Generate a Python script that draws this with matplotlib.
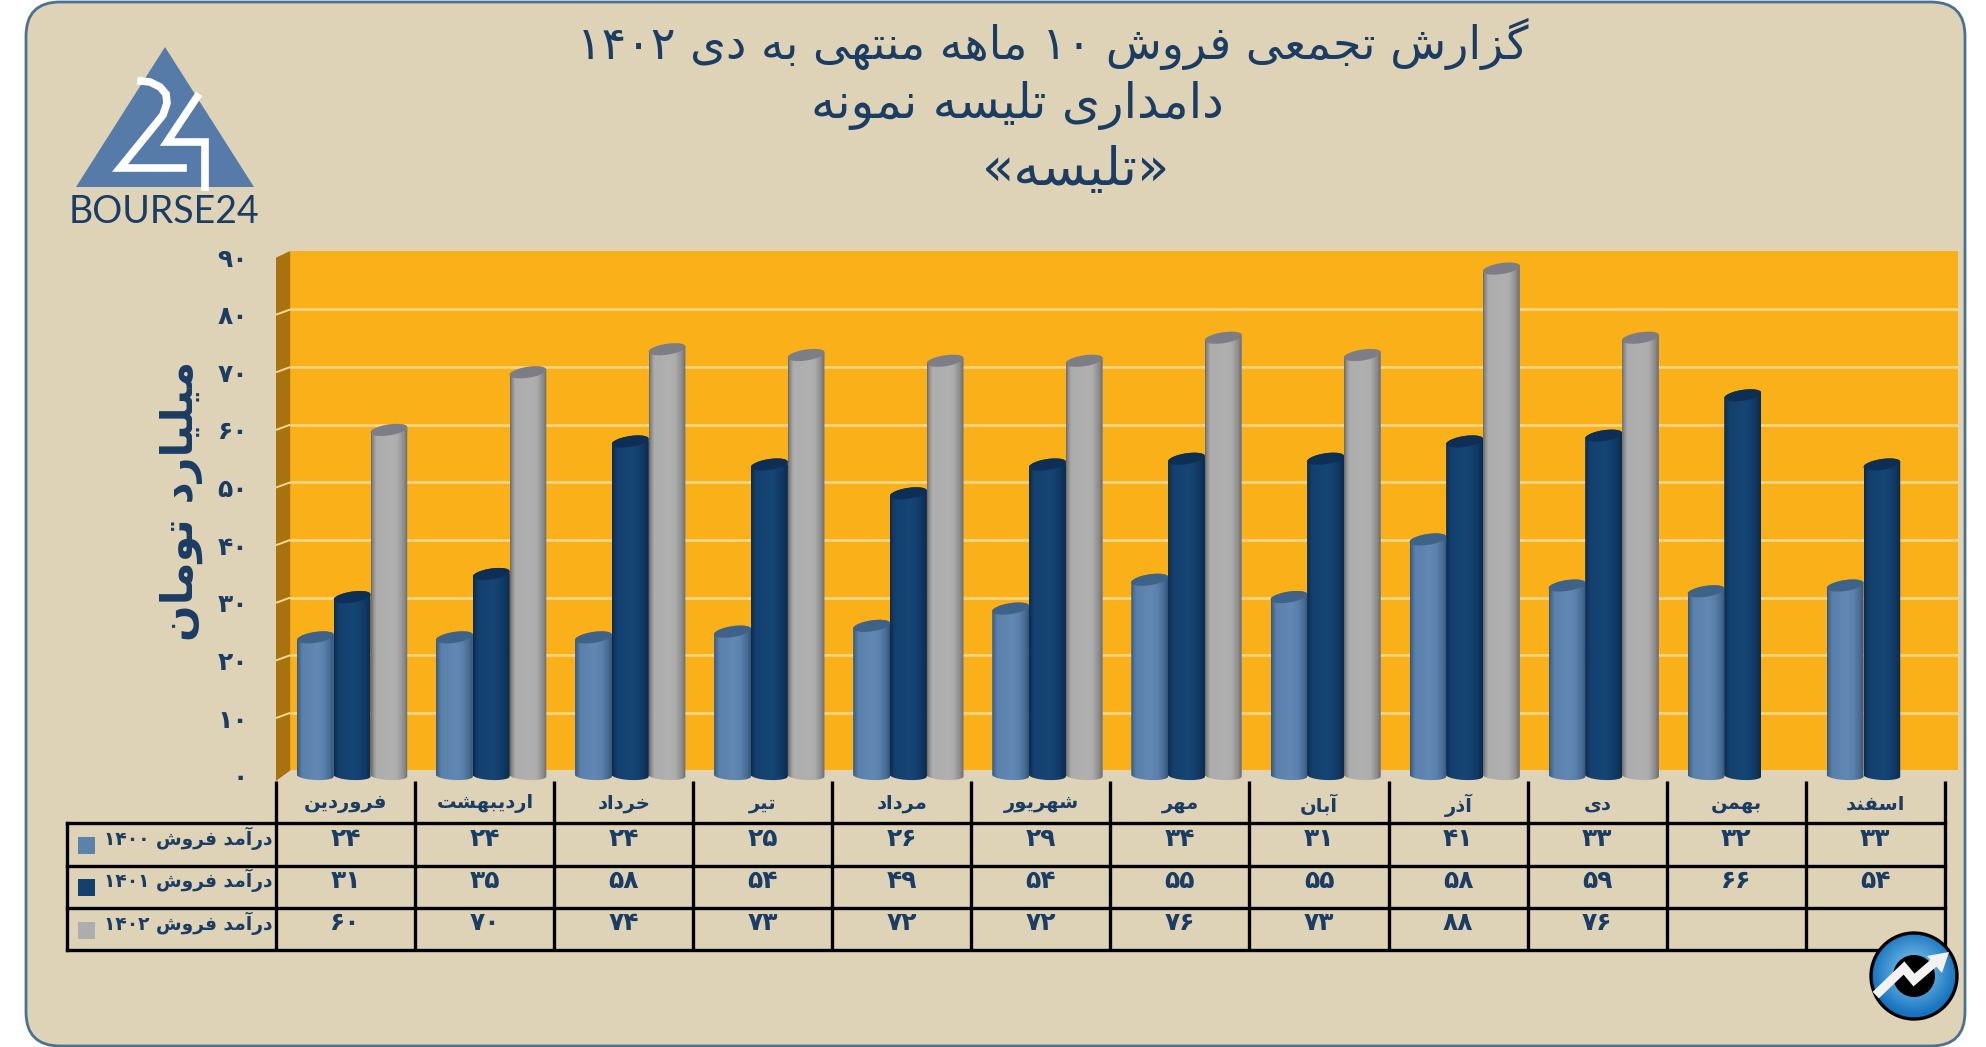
import numpy as np
import matplotlib
matplotlib.use("Agg")
import matplotlib.pyplot as plt
from matplotlib.patches import FancyBboxPatch, Polygon, Circle, Rectangle

months = ["فروردین", "اردیبهشت", "خرداد", "تیر", "مرداد", "شهریور", "مهر", "آبان", "آذر", "دی", "بهمن", "اسفند"]
sales_1400 = [24, 24, 24, 25, 26, 29, 34, 31, 41, 33, 32, 33]
sales_1401 = [31, 35, 58, 54, 49, 54, 55, 55, 58, 59, 66, 54]
sales_1402 = [60, 70, 74, 73, 72, 72, 76, 73, 88, 76, None, None]
series_names = ["درآمد فروش ۱۴۰۰", "درآمد فروش ۱۴۰۱", "درآمد فروش ۱۴۰۲"]
title_lines = ["گزارش تجمعی فروش ۱۰ ماهه منتهی به دی ۱۴۰۲", "دامداری تلیسه نمونه", "«تلیسه»"]
y_title = "میلیارد تومان"
y_ticks = [0, 10, 20, 30, 40, 50, 60, 70, 80, 90]

FORMS = {
    'ا': (0xFE8D, 0xFE8E), 'آ': (0xFE81, 0xFE82), 'د': (0xFEA9, 0xFEAA), 'ذ': (0xFEAB, 0xFEAC),
    'ر': (0xFEAD, 0xFEAE), 'ز': (0xFEAF, 0xFEB0), 'و': (0xFEED, 0xFEEE),
    'ب': (0xFE8F, 0xFE90, 0xFE91, 0xFE92), 'پ': (0xFB56, 0xFB57, 0xFB58, 0xFB59),
    'ت': (0xFE95, 0xFE96, 0xFE97, 0xFE98), 'ج': (0xFE9D, 0xFE9E, 0xFE9F, 0xFEA0),
    'خ': (0xFEA5, 0xFEA6, 0xFEA7, 0xFEA8), 'س': (0xFEB1, 0xFEB2, 0xFEB3, 0xFEB4),
    'ش': (0xFEB5, 0xFEB6, 0xFEB7, 0xFEB8), 'ع': (0xFEC9, 0xFECA, 0xFECB, 0xFECC),
    'ف': (0xFED1, 0xFED2, 0xFED3, 0xFED4), 'گ': (0xFB92, 0xFB93, 0xFB94, 0xFB95),
    'ل': (0xFEDD, 0xFEDE, 0xFEDF, 0xFEE0), 'م': (0xFEE1, 0xFEE2, 0xFEE3, 0xFEE4),
    'ن': (0xFEE5, 0xFEE6, 0xFEE7, 0xFEE8), 'ه': (0xFEE9, 0xFEEA, 0xFEEB, 0xFEEC),
    'ی': (0xFBFC, 0xFBFD, 0xFBFE, 0xFBFF),
}
MIRROR = {'«': '»', '»': '«'}


def rtl(s):
    """Shape Persian letters into presentation forms, lay out in visual order."""
    out = []
    for i, c in enumerate(s):
        if c not in FORMS:
            out.append(MIRROR.get(c, c))
            continue
        f = FORMS[c]
        prev = s[i - 1] if i else ''
        nxt = s[i + 1] if i + 1 < len(s) else ''
        join_prev = prev in FORMS and len(FORMS[prev]) == 4
        join_next = nxt in FORMS and len(f) == 4
        if join_prev and join_next:
            k = 3
        elif join_prev:
            k = 1
        elif join_next:
            k = 2
        else:
            k = 0
        out.append(chr(f[k]))
    # reverse, keeping digit runs in reading order
    runs, cur = [], ''
    for c in out:
        if '۰' <= c <= '۹':
            cur += c
        else:
            if cur:
                runs.append(cur)
                cur = ''
            runs.append(c)
    if cur:
        runs.append(cur)
    return ''.join(reversed(runs))


def fa(n):
    return str(n).translate(str.maketrans('0123456789', '۰۱۲۳۴۵۶۷۸۹'))


W, H = 1986, 1047
NAVY = '#1b3c63'
BG = '#dfd3b7'
plt.rcParams['font.family'] = ['DejaVu Sans']
fig = plt.figure(figsize=(W / 100, H / 100), dpi=100, facecolor='white')

# ---------- background panel ----------
bg = fig.add_axes([0, 0, 1, 1], zorder=0)
bg.set_xlim(0, W)
bg.set_ylim(H, 0)
bg.axis('off')
bg.add_patch(FancyBboxPatch((26, 2), 1939, 1044, boxstyle='round,pad=0,rounding_size=34',
                            fc=BG, ec='#4b7090', lw=2))

# ---------- chart ----------
AX_L, AX_R, AX_T, AX_B = 276, 1958, 251, 783
ax = fig.add_axes([AX_L / W, 1 - AX_B / H, (AX_R - AX_L) / W, (AX_B - AX_T) / H], zorder=1)
ax.patch.set_alpha(0)
for s in ax.spines.values():
    s.set_visible(False)
XL, XR, YB, YT = -0.502, 11.593, -1.27, 91.05
BACK_DY = 0.9       # depth offset of back wall in value units
WALL_X = -0.4
ax.add_patch(Rectangle((WALL_X, BACK_DY), XR - WALL_X, YT - BACK_DY, fc='#fab019', ec='none', zorder=1))
ax.add_patch(Polygon([(XL, -0.9), (WALL_X, BACK_DY), (WALL_X, YT), (XL, 89.9)], fc='#a8730e', ec='none', zorder=1))
GRID = '#fcd88f'
for v in y_ticks[1:-1]:
    ax.plot([WALL_X, XR], [v + BACK_DY, v + BACK_DY], color=GRID, lw=1.8, zorder=2, solid_capstyle='butt')
    ax.plot([XL, WALL_X], [v, v + BACK_DY], color=GRID, lw=1.4, zorder=2, solid_capstyle='butt')

BAR_W = 0.264
OFFS = [-0.2186, 0.0455, 0.3097]
STYLES = [
    ('#5a82ad', '#35567b', '#6388b3', '#3f6288'),
    ('#13406f', '#0b2a4c', '#164674', '#0e2f55'),
    ('#adadad', '#6c6c6c', '#b0b0b0', '#7d7e85'),
]
POS = [0, .05, .14, .3, .55, .72, .9, 1]


def hex_rgb(c):
    return np.array(matplotlib.colors.to_rgb(c))


def gradient(mid, dark, light):
    m, d, l = hex_rgb(mid), hex_rgb(dark), hex_rgb(light)
    stops = [d, d * .5 + m * .5, m, m * .7 + l * .3, l, m, d * .5 + m * .5, d]
    t = np.linspace(0, 1, 48)
    return np.stack([np.array([np.interp(t, POS, [s[c] for s in stops])]) for c in range(3)], axis=-1)


for si, (vals, st) in enumerate(zip([sales_1400, sales_1401, sales_1402], STYLES)):
    for i, v in enumerate(vals):
        if v is None:
            continue
        xc = i + OFFS[si]
        bar = ax.bar(xc, v, BAR_W, color=st[0], zorder=3 + si * .1 + i * .001)[0]
        z = bar.get_zorder()
        t1 = np.linspace(np.pi, 2 * np.pi, 30)
        t2 = np.linspace(0, np.pi, 30)
        bx = xc + BAR_W / 2 * np.cos(t1)
        by = -0.75 * np.abs(np.sin(t1)) - 0.15 * np.cos(t1)
        tx = xc + BAR_W / 2 * np.cos(t2)
        ty = v + 0.95 * np.sin(t2) + 0.45 * np.cos(t2)
        poly = Polygon(np.c_[np.r_[bx, tx], np.r_[by, ty]], closed=True, transform=ax.transData, fc='none', ec='none')
        ax.add_patch(poly)
        bar.set_clip_path(poly)
        im = ax.imshow(gradient(st[0], st[1], st[2]), extent=(xc - BAR_W / 2, xc + BAR_W / 2, -1.2, v + 1.2),
                       aspect='auto', interpolation='bilinear', zorder=z + .0001)
        im.set_clip_path(poly)
        t = np.linspace(0, 2 * np.pi, 60)
        ax.fill(xc + BAR_W / 2 * np.cos(t), v + 0.95 * np.sin(t) + 0.45 * np.cos(t), color=st[3], lw=0, zorder=z + .0002)

ax.set_xlim(XL, XR)
ax.set_ylim(YB, YT)
ax.set_yticks(y_ticks, [fa(v) for v in y_ticks])
ax.set_xticks(range(12), [rtl(m) for m in months])
ax.tick_params(axis='y', length=0, pad=20, labelsize=18, labelcolor=NAVY)
ax.tick_params(axis='x', length=0, pad=8, labelsize=14, labelcolor=NAVY)
for lab in ax.get_yticklabels() + ax.get_xticklabels():
    lab.set_fontweight('bold')

# ---------- overlay: table, titles, logos ----------
ov = fig.add_axes([0, 0, 1, 1], zorder=2)
ov.set_xlim(0, W)
ov.set_ylim(H, 0)
ov.axis('off')
T_L, T_0, COL = 67, 276, 139.07
ROWS = [823, 866, 908, 950]
T_R = T_0 + 12 * COL
for y in ROWS:
    ov.plot([T_L, T_R], [y, y], color='black', lw=2.4, solid_capstyle='projecting')
ov.plot([T_L, T_L], [ROWS[0], ROWS[-1]], color='black', lw=2.4, solid_capstyle='projecting')
for i in range(13):
    x = T_0 + i * COL
    ov.plot([x, x], [781, ROWS[-1]], color='black', lw=2.4, solid_capstyle='butt')

row_y = [838.5, 880.5, 923.5]
swatch = ['#5a82ad', '#13406f', '#adadad']
for r, (vals, nm) in enumerate(zip([sales_1400, sales_1401, sales_1402], series_names)):
    ov.add_patch(Rectangle((78, row_y[r] - 2), 17, 17, fc=swatch[r], ec='none'))
    ov.text(272, row_y[r], rtl(nm), ha='right', va='center', color=NAVY, fontsize=13.4, fontweight='bold')
    for i, v in enumerate(vals):
        if v is not None:
            ov.text(T_0 + (i + .5) * COL, row_y[r], fa(v), ha='center', va='center', color=NAVY, fontsize=18, fontweight='bold')

ov.text(1053, 44, rtl(title_lines[0]), ha='center', va='center', color=NAVY, fontsize=33)
ov.text(1017, 106, rtl(title_lines[1]), ha='center', va='center', color=NAVY, fontsize=35)
ov.text(1076, 170, rtl(title_lines[2]), ha='center', va='center', color=NAVY, fontsize=38)
ov.text(181, 501, rtl(y_title), rotation=90, ha='center', va='center', color=NAVY, fontsize=31, fontweight='bold')

# logo
ov.add_patch(Polygon([(165, 47), (76, 187), (254, 187)], fc='#567ba8', ec='none'))
ov.plot([141, 150, 160, 166, 167, 163, 120, 183], [81, 82, 87, 94, 103, 115, 168, 168], color='white', lw=5.5, solid_joinstyle='miter')
ov.plot([197, 167, 205, 205], [97, 142, 142, 187], color='white', lw=5.5, solid_joinstyle='miter')
ov.text(164, 212, 'BOURSE24', ha='center', va='center', color=NAVY, fontsize=27, family='Lato')

# round badge
cx, cy, r = 1914, 976, 43
g = np.linspace(-1, 1, 120)
xx, yy = np.meshgrid(g, g)
d = np.sqrt(xx ** 2 + (yy + .1) ** 2)
c0, c1 = hex_rgb('#8fd0f2'), hex_rgb('#1673bf')
img = c0 + (c1 - c0) * np.clip(d, 0, 1)[..., None]
im = ov.imshow(img, extent=(cx - r, cx + r, cy + r, cy - r), aspect='auto', zorder=5)
clip = Circle((cx, cy), r, transform=ov.transData)
im.set_clip_path(clip)
ov.add_patch(Circle((cx, cy), r, fc='none', ec='black', lw=2.4, zorder=6))
ov.add_patch(Circle((cx, cy), 21, fc='black', ec='none', zorder=6))
ov.plot([1879, 1904, 1914, 1936], [992, 968, 980, 961], color='#f2f2f2', lw=6.5, zorder=7, solid_joinstyle='miter')
ov.add_patch(Polygon([(1949, 952), (1927, 956), (1942, 973)], fc='#f2f2f2', ec='none', zorder=7))
ov.set_xlim(0, W)
ov.set_ylim(H, 0)

fig.savefig('out.png', dpi=100, facecolor='white')
